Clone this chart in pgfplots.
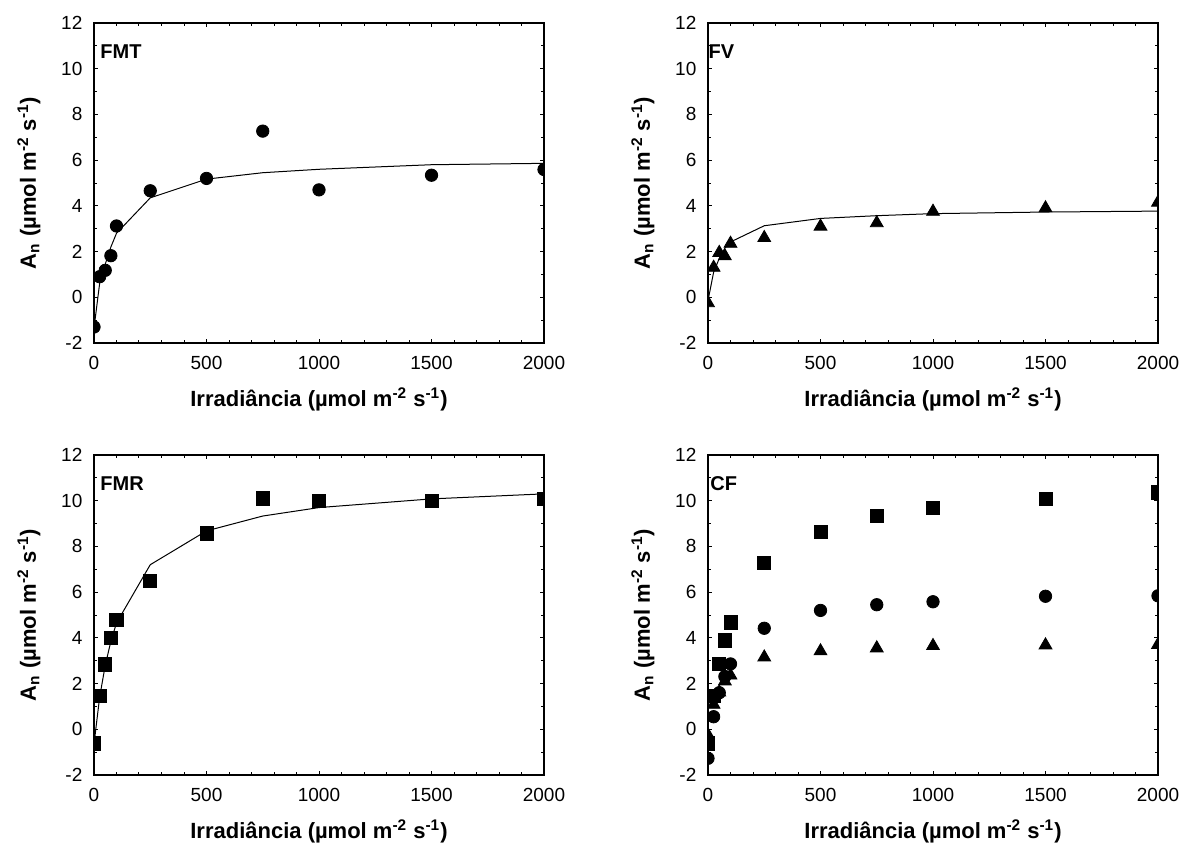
\documentclass[border=0pt]{standalone}
\usepackage{fontspec}
\setmainfont{Liberation Sans}
\usepackage{pgfplots}
\pgfplotsset{compat=1.18}

\tikzset{plab/.style={anchor=base west, inner sep=0pt, font=\fontsize{10}{12}\selectfont\bfseries}}
\pgfplotsset{
 panel/.style={
  scale only axis, width=225pt, height=160pt,
  xmin=0, xmax=2000, ymin=-2, ymax=12,
  xtick={0,500,...,2000}, ytick={-2,0,...,12},
  minor x tick num=4, minor y tick num=1,
  tick align=inside,
  major tick length=2.2pt, minor tick length=1.7pt,
  axis line style={line width=0.6pt},
  every tick/.append style={black, line width=0.5pt},
  ticklabel style={font=\fontsize{9.5}{11}\selectfont},
  /pgf/number format/assume math mode=true,
  /pgf/number format/set thousands separator={},
  scaled ticks=false,
  yticklabel style={xshift=-2.3pt},
  xticklabel style={yshift=-3.3pt},
  xlabel={Irradiância (µmol m\textsuperscript{-2} s\textsuperscript{-1})},
  ylabel={A\textsubscript{n} (µmol m\textsuperscript{-2} s\textsuperscript{-1})},
  label style={font=\fontsize{11}{13}\selectfont\bfseries},
  xlabel style={at={(axis description cs:0.5,-0.1969)}, anchor=base},
  ylabel style={at={(axis description cs:-0.1289,0.5)}, anchor=base},
  clip marker paths=true,
 },
 fitline/.style={black, line width=0.5pt, no marks},
 circ/.style={only marks, mark=*, mark size=3.1pt, black, mark options={fill=black}},
 sq/.style={only marks, mark=square*, mark size=3.3pt, black, mark options={fill=black}},
 tri/.style={only marks, mark=triangle*, mark size=3.7pt, black, mark options={fill=black}},
}

\begin{document}
\begin{tikzpicture}
\path[use as bounding box] (0pt,0pt) rectangle (591.5pt,421.5pt);

% FMT
\begin{axis}[panel, at={(47pt,250pt)}, anchor=south west]
\addplot[fitline] coordinates {(0,-1.35)(25,0.6)(50,1.45)(75,2.2)(100,2.8)(250,4.35)(500,5.17)(750,5.45)(1000,5.6)(1500,5.8)(2000,5.86)};
\addplot[circ] coordinates {(0,-1.3)(25,0.9)(50,1.18)(75,1.82)(100,3.12)(250,4.66)(500,5.2)(750,7.27)(1000,4.7)(1500,5.34)(2000,5.59)};
\node[plab] at (axis cs:27,10.45) {FMT};
\end{axis}

% FV
\begin{axis}[panel, at={(354pt,250pt)}, anchor=south west]
\addplot[fitline] coordinates {(0,-0.15)(25,1.1)(50,1.7)(75,2.15)(100,2.42)(250,3.13)(500,3.45)(750,3.57)(1000,3.66)(1500,3.73)(2000,3.77)};
\addplot[tri] coordinates {(0,-0.25)(25,1.3)(50,1.95)(75,1.8)(100,2.35)(250,2.6)(500,3.1)(750,3.25)(1000,3.75)(1500,3.9)(2000,4.15)};
\node[plab] at (axis cs:1,10.45) {FV};
\end{axis}

% FMR
\begin{axis}[panel, at={(47pt,34pt)}, anchor=south west]
\addplot[fitline] coordinates {(0,-0.65)(25,1.4)(50,2.8)(75,3.85)(100,4.65)(250,7.2)(500,8.68)(750,9.33)(1000,9.7)(1500,10.08)(2000,10.3)};
\addplot[sq] coordinates {(0,-0.62)(25,1.46)(50,2.84)(75,4.01)(100,4.8)(250,6.48)(500,8.57)(750,10.1)(1000,9.99)(1500,9.99)(2000,10.08)};
\node[plab] at (axis cs:27,10.45) {FMR};
\end{axis}

% CF
\begin{axis}[panel, at={(354pt,34pt)}, anchor=south west]
\addplot[sq] coordinates {(0,-0.62)(25,1.45)(50,2.85)(75,3.89)(100,4.68)(250,7.28)(500,8.65)(750,9.32)(1000,9.7)(1500,10.08)(2000,10.36)};
\addplot[circ] coordinates {(0,-1.27)(25,0.55)(50,1.6)(75,2.31)(100,2.86)(250,4.42)(500,5.2)(750,5.45)(1000,5.58)(1500,5.82)(2000,5.84)};
\addplot[tri] coordinates {(0,-0.25)(25,1.08)(50,1.62)(75,2.1)(100,2.36)(250,3.15)(500,3.42)(750,3.55)(1000,3.65)(1500,3.68)(2000,3.7)};
\node[plab] at (axis cs:9,10.45) {CF};
\end{axis}
\end{tikzpicture}
\end{document}
